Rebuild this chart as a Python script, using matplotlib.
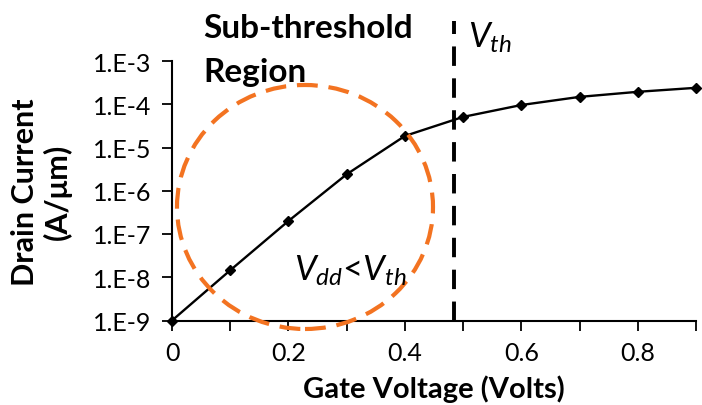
import matplotlib
matplotlib.use("Agg")
import matplotlib.pyplot as plt
from matplotlib.patches import Ellipse

plt.rcParams['font.family'] = ['Lato', 'DejaVu Sans']
plt.rcParams['mathtext.fontset'] = 'custom'
plt.rcParams['mathtext.rm'] = 'Lato'
plt.rcParams['mathtext.it'] = 'Lato:italic'

# data
gate_v = [0.0, 0.1, 0.2, 0.3, 0.4, 0.5, 0.6, 0.7, 0.8, 0.9]
drain_i = [1.0e-9, 1.45e-8, 2.0e-7, 2.4e-6, 1.85e-5, 5.1e-5, 9.6e-5, 1.48e-4, 1.94e-4, 2.4e-4]
v_th = 0.485
x_ticks = [0, 0.2, 0.4, 0.6, 0.8]
x_minor = [0.1, 0.3, 0.5, 0.7, 0.9]
y_ticks = [1e-9, 1e-8, 1e-7, 1e-6, 1e-5, 1e-4, 1e-3]
y_labels = ["1.E-9", "1.E-8", "1.E-7", "1.E-6", "1.E-5", "1.E-4", "1.E-3"]

W, H = 702, 406
fig = plt.figure(figsize=(W / 100, H / 100), dpi=100)
ax = fig.add_axes([172 / W, 1 - 321.5 / H, (696 - 172) / W, (321.5 - 62) / H])

ax.plot(gate_v, drain_i, color='black', lw=1.7, marker='D', ms=5,
        clip_on=False, zorder=4)

# threshold voltage line, sticks out above the axes
ax.plot([v_th, v_th], [1e-9, 10 ** -2.08], color='black', lw=2.8,
        dashes=(5, 3.2), clip_on=False, zorder=3)

ax.set_yscale('log')
ax.set_xlim(0, 0.9)
ax.set_ylim(1e-9, 1e-3)
ax.set_xticks(x_ticks)
ax.set_xticklabels(["0", "0.2", "0.4", "0.6", "0.8"])
ax.set_xticks(x_minor, minor=True)
ax.set_yticks(y_ticks)
ax.set_yticklabels(y_labels)
ax.yaxis.set_minor_locator(matplotlib.ticker.NullLocator())
ax.tick_params(axis='both', which='both', direction='out', width=1.3,
               length=7, labelsize=18, color='black')
ax.tick_params(axis='y', pad=8)
ax.tick_params(axis='x', which='major', pad=8)

for s in ['top', 'right']:
    ax.spines[s].set_visible(False)
for s in ['left', 'bottom']:
    ax.spines[s].set_linewidth(1.5)

ax.set_xlabel("Gate Voltage (Volts)", fontsize=21, fontweight='bold', labelpad=7)
ax.set_ylabel("Drain Current\n(A/\u03bcm)", fontsize=22, fontweight='bold',
              labelpad=15, linespacing=1.15)

# orange dashed circle around sub-threshold part
circ = Ellipse((305 / W, 1 - 208 / H), 256 / W, 244 / H, transform=fig.transFigure,
               fill=False, edgecolor='#F37321', lw=3, linestyle=(0, (5, 2.6)),
               clip_on=False, zorder=2)
fig.patches.append(circ)

fig.text(203 / W, 1 - 38 / H, "Sub-threshold", fontsize=24,
         fontweight='bold', ha='left', va='baseline')
fig.text(203 / W, 1 - 82 / H, "Region", fontsize=24,
         fontweight='bold', ha='left', va='baseline')
fig.text(468 / W, 1 - 48 / H, r"$V_{th}$", fontsize=25, ha='left', va='baseline')
fig.text(294 / W, 1 - 281 / H, r"$V_{dd}$<$V_{th}$", fontsize=25,
         ha='left', va='baseline')

fig.savefig("out.png", dpi=100)
